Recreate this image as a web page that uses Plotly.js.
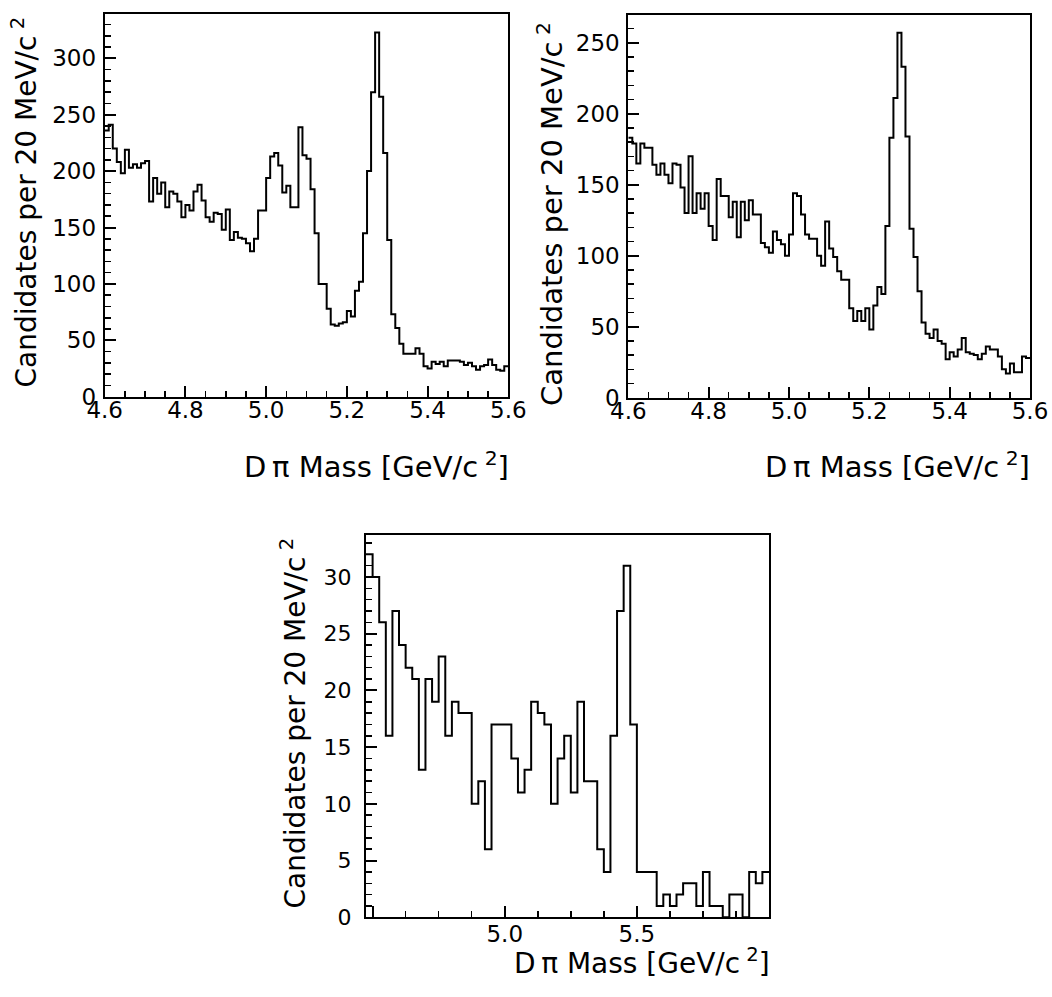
<!DOCTYPE html>
<html><head><meta charset="utf-8">
<script src="https://cdn.plot.ly/plotly-3.0.1.min.js"></script>
<style>html,body{margin:0;padding:0;background:#fff;} #chart{width:1052px;height:997px;}</style>
</head><body><div id="chart"></div>
<script>
// ---- data ----
const binStartA = 4.6, binWidthA = 0.01;
const countsA = [236,241,220,208,198,219,203,206,203,207,
  209,173,194,180,190,168,182,180,173,159,
  170,165,182,188,174,159,155,163,162,148,
  166,139,146,141,140,136,129,140,165,165,
  194,213,216,205,181,187,168,168,239,214,
  211,184,145,100,100,78,64,63,65,66,
  76,71,94,102,145,200,270,323,266,216,
  139,73,61,47,38,38,38,43,38,27,
  25,31,29,31,27,32,32,32,31,28,
  30,27,24,27,28,33,28,24,23,27];

const binStartB = 4.6, binWidthB = 0.01;
const countsB = [183,179,165,179,176,176,164,157,165,157,
  151,165,164,148,130,170,130,144,133,144,
  121,111,154,142,142,127,138,113,138,125,
  139,129,129,109,106,102,117,111,108,100,
  115,144,142,129,115,112,112,100,93,124,
  105,99,89,83,83,63,54,61,54,63,
  48,65,78,73,121,183,211,257,233,184,
  119,99,75,53,45,42,48,40,38,27,
  32,29,34,42,32,31,30,27,31,36,
  34,34,29,20,17,24,18,18,29,28];

const binStartC = 4.475, binWidthC = 0.025;
const countsC = [32,30,26,16,27,24,22,21,13,21,
  19,23,16,19,18,18,10,12,6,17,
  17,17,14,11,13,19,18,17,10,14,
  16,11,19,12,12,6,4,16,27,31,
  17,4,4,4,1,2,1,2,3,3,
  1,4,1,1,0,2,2,0,4,3,4];

const tickValsC = [4.5, 5.0, 5.5, 6.0];
const tickTextC = ['', '5.0', '5.5', ''];

const xTitleText = 'D\u2009π Mass [GeV/c<sup> 2</sup>]';
const yTitleText = 'Candidates per 20 MeV/c<sup> 2</sup>';

// ---- helpers ----
function steps(start, width, counts) {
  const x = counts.map((_, i) => start + i * width);
  x.push(start + counts.length * width);
  const y = counts.concat([counts[counts.length - 1]]);
  return {x, y};
}
const W = 1052, H = 997;
const fx = p => p / W;
const fy = p => 1 - p / H;
const FONT = 'DejaVu Sans';

const sA = steps(binStartA, binWidthA, countsA);
const sB = steps(binStartB, binWidthB, countsB);
const sC = steps(binStartC, binWidthC, countsC);

const lineStyle = {color: '#000', width: 2, shape: 'hv'};
const traces = [
  {x: sA.x, y: sA.y, type: 'scatter', mode: 'lines', line: lineStyle, xaxis: 'x', yaxis: 'y', hoverinfo: 'skip'},
  {x: sB.x, y: sB.y, type: 'scatter', mode: 'lines', line: lineStyle, xaxis: 'x2', yaxis: 'y2', hoverinfo: 'skip'},
  {x: sC.x, y: sC.y, type: 'scatter', mode: 'lines', line: lineStyle, xaxis: 'x3', yaxis: 'y3', hoverinfo: 'skip'}
];

function baseAxis(domain, range, anchor, size, standoff) {
  return {
    domain, range, anchor,
    ticks: 'inside', ticklen: 11, tickwidth: 2, tickcolor: '#000',
    showline: true, mirror: true, linewidth: 2, linecolor: '#000',
    showgrid: false, zeroline: false, fixedrange: true,
    tickfont: {family: FONT, size: size, color: '#000'},
    ticklabelstandoff: standoff
  };
}
function minorTicks(dtick, tick0) {
  return {tickmode: 'linear', dtick: dtick, tick0: tick0, ticks: 'inside', ticklen: 6, tickwidth: 1.5, tickcolor: '#000', showgrid: false};
}

const xA = Object.assign(baseAxis([fx(104.7), fx(508.3)], [4.6, 5.6], 'y', 23, -8),
  {tickmode: 'linear', dtick: 0.2, tick0: 4.6, tickformat: '.1f', minor: minorTicks(0.05, 4.6)});
const yA = Object.assign(baseAxis([fy(396.7), fy(14)], [0, 339.3], 'x', 23, 2),
  {tickmode: 'linear', dtick: 50, tick0: 0, minor: minorTicks(10, 0)});
const xB = Object.assign(baseAxis([fx(628.3), fx(1030)], [4.6, 5.6], 'y2', 23, -8),
  {tickmode: 'linear', dtick: 0.2, tick0: 4.6, tickformat: '.1f', minor: minorTicks(0.05, 4.6)});
const yB = Object.assign(baseAxis([fy(397.7), fy(15)], [0, 269.5], 'x2', 23, 2),
  {tickmode: 'linear', dtick: 50, tick0: 0, minor: minorTicks(10, 0)});
const xC = Object.assign(baseAxis([fx(366), fx(769)], [4.475, 6.0], 'y3', 23, -5),
  {tickmode: 'array', tickvals: tickValsC, ticktext: tickTextC, minor: minorTicks(0.125, 4.5)});
const yC = Object.assign(baseAxis([fy(917.3), fy(535)], [0, 33.7], 'x3', 22, 8),
  {tickmode: 'linear', dtick: 5, tick0: 0, minor: minorTicks(1, 0)});

const layout = {
  width: W, height: H,
  margin: {l: 0, r: 0, t: 0, b: 0},
  paper_bgcolor: '#fff', plot_bgcolor: '#fff',
  showlegend: false,
  xaxis: xA, yaxis: yA, xaxis2: xB, yaxis2: yB, xaxis3: xC, yaxis3: yC,
  annotations: [
    {text: xTitleText, xref: 'paper', yref: 'paper', x: fx(511), y: fy(465), xanchor: 'right', yanchor: 'middle', showarrow: false, font: {family: FONT, size: 29, color: '#000'}},
    {text: xTitleText, xref: 'paper', yref: 'paper', x: fx(1032), y: fy(465), xanchor: 'right', yanchor: 'middle', showarrow: false, font: {family: FONT, size: 29, color: '#000'}},
    {text: xTitleText, xref: 'paper', yref: 'paper', x: fx(772), y: fy(961), xanchor: 'right', yanchor: 'middle', showarrow: false, font: {family: FONT, size: 28, color: '#000'}},
    {text: yTitleText, xref: 'paper', yref: 'paper', x: fx(25), y: fy(15), xanchor: 'center', yanchor: 'top', textangle: -90, showarrow: false, font: {family: FONT, size: 28, color: '#000'}},
    {text: yTitleText, xref: 'paper', yref: 'paper', x: fx(550), y: fy(20), xanchor: 'center', yanchor: 'top', textangle: -90, showarrow: false, font: {family: FONT, size: 29, color: '#000'}},
    {text: yTitleText, xref: 'paper', yref: 'paper', x: fx(294), y: fy(536), xanchor: 'center', yanchor: 'top', textangle: -90, showarrow: false, font: {family: FONT, size: 28, color: '#000'}}
  ]
};

Plotly.newPlot('chart', traces, layout, {displayModeBar: false, staticPlot: true});
</script>
</body></html>
